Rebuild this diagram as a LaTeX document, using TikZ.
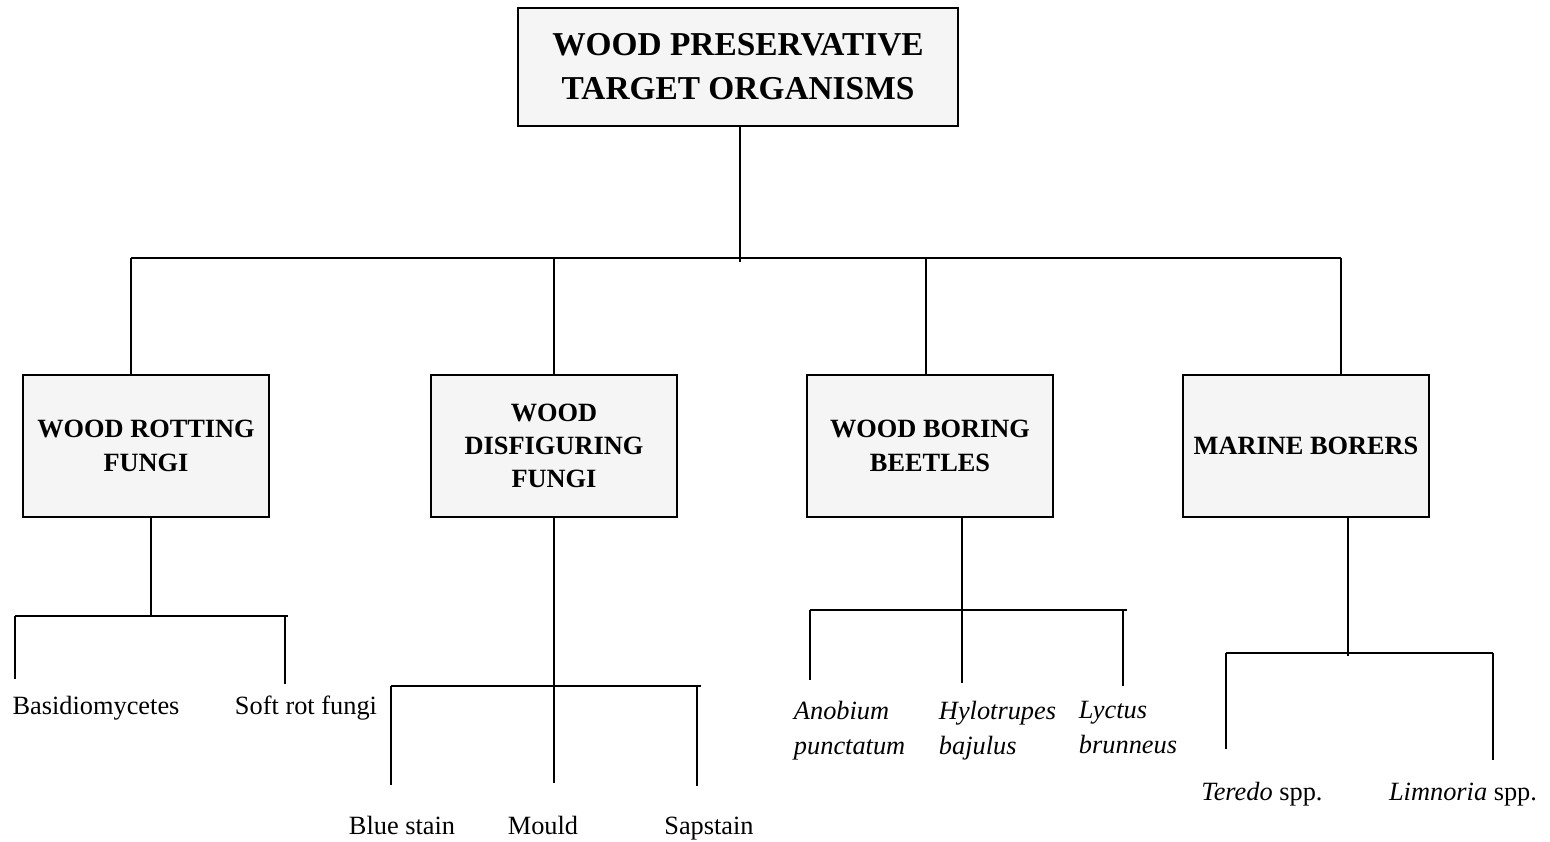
\documentclass[tikz,border=0pt]{standalone}
\usepackage{fontspec}
\setmainfont{Liberation Serif}
\usetikzlibrary{positioning}

\begin{document}
\begin{tikzpicture}
    [x=0.02cm,y=-0.02cm,line width=1.1pt,
     groupbox/.style={draw,fill=black!4,minimum width=4.92cm,minimum height=2.84cm,align=center,inner sep=0pt,font=\fontsize{15}{19}\selectfont\bfseries},
     leaf/.style={font=\fontsize{15}{20}\selectfont,inner sep=0pt,anchor=base},
     genus/.style={font=\fontsize{15}{20}\selectfont\itshape,inner sep=0pt,align=left,anchor=north west}]
    \useasboundingbox (0,0) rectangle (1550,841);

    % root
    \node[draw,fill=black!4,minimum width=8.8cm,minimum height=2.36cm,align=center,inner sep=0pt,
          font=\fontsize{19}{25}\selectfont\bfseries] (root) at (738,67) {WOOD PRESERVATIVE\\TARGET ORGANISMS};

    % groups
    \node[groupbox] (rot) at (146,446) {WOOD ROTTING\\FUNGI};
    \node[groupbox] (disfig) at (554,446) {WOOD\\DISFIGURING\\FUNGI};
    \node[groupbox] (boring) at (930,446) {WOOD BORING\\BEETLES};
    \node[groupbox] (marine) at (1306,446) {MARINE BORERS};

    % leaves
    \node[leaf] (basidio) at (96,714) {Basidiomycetes};
    \node[leaf] (softrot) at (306,714) {Soft rot fungi};
    \node[leaf] (blue) at (402,834) {Blue stain};
    \node[leaf] (mould) at (543,834) {Mould};
    \node[leaf] (sap) at (709,834) {Sapstain};
    \node[genus] (anobium) at (793,700) {Anobium\\punctatum};
    \node[genus] (hylo) at (938,700) {Hylotrupes\\bajulus};
    \node[genus] (lyctus) at (1078,700) {Lyctus\\brunneus};
    \node[leaf] (teredo) at (1262,800) {\textit{Teredo} spp.};
    \node[leaf] (limnoria) at (1463,800) {\textit{Limnoria} spp.};

    % first level
    \coordinate (hub) at (740,262);
    \coordinate (barL) at (131,258);
    \coordinate (barR) at (1341,258);
    \draw (root.south -| hub) -- (hub);
    \draw (barL) -- (barR);
    \foreach \g/\x in {rot/131,disfig/554,boring/926,marine/1341}
    {
        \coordinate (t\g) at (\x,258);
        \draw (t\g) -- (t\g |- \g.north);
    }

    % wood rotting fungi
    \coordinate (rotHub) at (151,616);
    \coordinate (rotL) at (15,616);
    \coordinate (rotR) at (288,616);
    \draw (rot.south -| rotHub) -- (rotHub);
    \draw (rotL) -- (rotR);

    % wood disfiguring fungi
    \coordinate (disL) at (391,686);
    \coordinate (disR) at (701,686);
    \draw (disL) -- (disR);

    % wood boring beetles
    \coordinate (borHub) at (962,610);
    \coordinate (borL) at (810,610);
    \coordinate (borR) at (1127,610);
    \draw (boring.south -| borHub) -- (borHub);
    \draw (borL) -- (borR);

    % marine borers
    \coordinate (marHub) at (1348,656);
    \coordinate (marL) at (1226,653);
    \coordinate (marR) at (1493,653);
    \draw (marine.south -| marHub) -- (marHub);
    \draw (marL) -- (marR);

    % stems down to the leaves
    \foreach \leaf/\x/\y/\gap in {basidio/15/616/0.32cm, softrot/285/616/0.2cm,
                                  blue/391/686/0.6cm, sap/697/686/0.6cm,
                                  anobium/810/610/0.4cm, lyctus/1123/610/0.28cm,
                                  teredo/1226/653/0.64cm, limnoria/1493/653/0.44cm}
    {
        \coordinate (s\leaf) at (\x,\y);
        \draw[shorten >=\gap] (s\leaf) -- (s\leaf |- \leaf.north);
    }
    \draw[shorten >=0.64cm] (disfig.south) -- (disfig.south |- mould.north);
    \draw[shorten >=0.34cm] (borHub) -- (borHub |- hylo.north);
\end{tikzpicture}
\end{document}
